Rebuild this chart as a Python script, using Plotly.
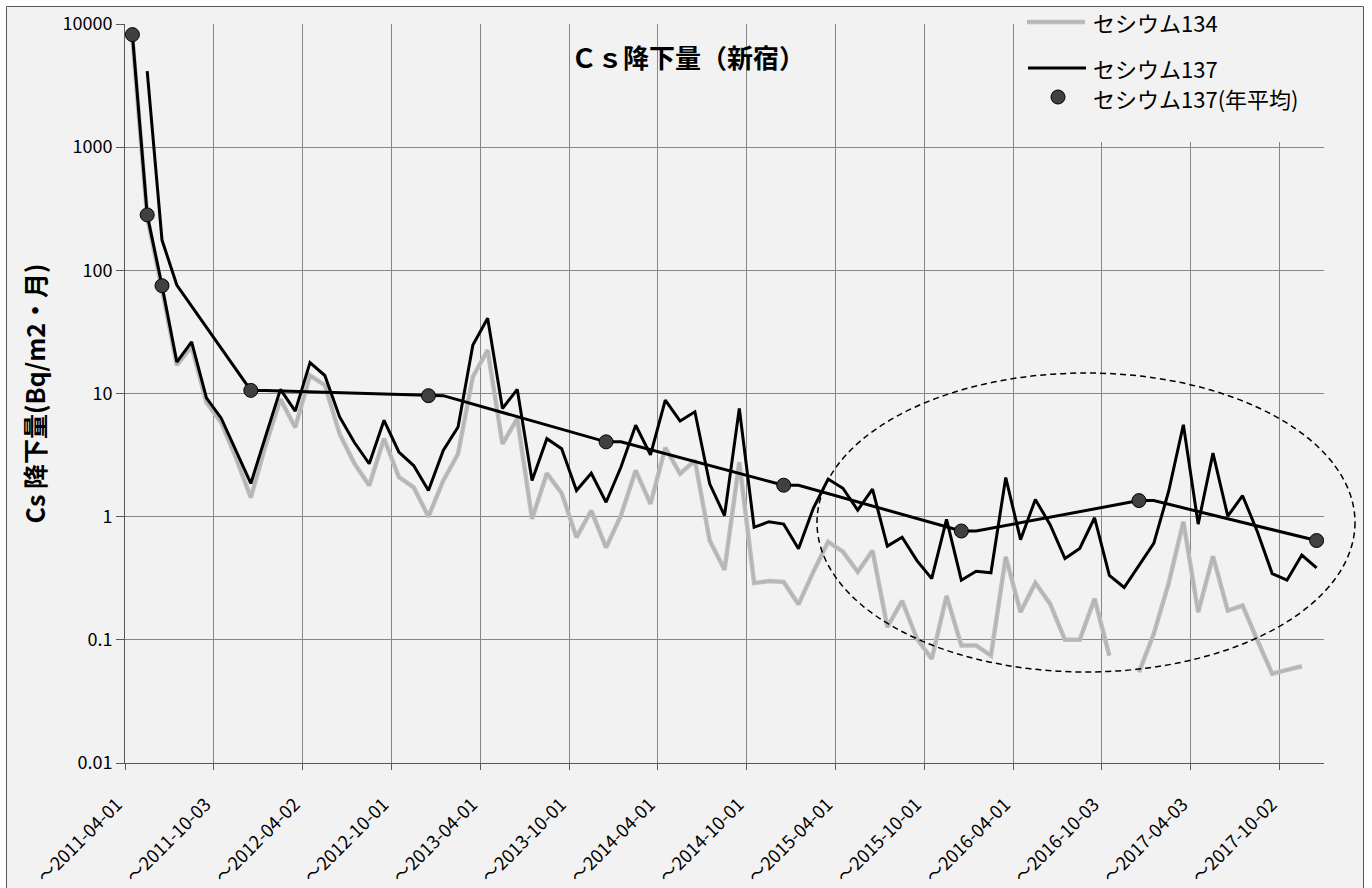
import plotly.graph_objects as go

# Monthly fallout, Shinjuku, April 2011 - December 2017 (Bq/m2 per month)
month_index = list(range(81))

cs137 = [8200, 282, 75, 18.0, 26.2, 9.2, 6.3, 3.4, 1.86, 4.5,
         10.8, 7.2, 17.8, 14.0, 6.45, 4.0, 2.69, 6.06, 3.35, 2.6,
         1.63, 3.45, 5.35, 24.8, 40.9, 7.55, 10.8, 1.97, 4.3, 3.56,
         1.63, 2.25, 1.31, 2.52, 5.52, 3.18, 8.83, 5.98, 7.1, 1.85,
         1.02, 7.55, 0.82, 0.91, 0.87, 0.548, 1.17, 2.02, 1.70, 1.13,
         1.67, 0.577, 0.68, 0.44, 0.314, 0.95, 0.305, 0.36, 0.35, 2.08,
         0.65, 1.38, 0.86, 0.457, 0.552, 0.98, 0.334, 0.266, 0.40, 0.607,
         1.6, 5.58, 0.87, 3.28, 1.01, 1.48, 0.755, 0.345, 0.305, 0.488,
         0.384]

cs134 = [7800, 270, 70, 17, 24, 8.5, 5.8, 3.0, 1.43, 3.8,
         9.0, 5.3, 14, 11.7, 4.7, 2.7, 1.79, 4.3, 2.1, 1.73,
         1.0, 1.96, 3.24, 13.7, 22.5, 3.9, 6.25, 0.96, 2.25, 1.55,
         0.68, 1.12, 0.56, 1.02, 2.37, 1.27, 3.63, 2.23, 2.86, 0.64,
         0.37, 2.77, 0.29, 0.30, 0.295, 0.194, 0.356, 0.625, 0.52, 0.356,
         0.53, 0.127, 0.207, 0.102, 0.07, 0.227, 0.09, 0.09, 0.0745, 0.472,
         0.168, 0.29, 0.196, 0.1, 0.1, 0.216, 0.0745, None, 0.0545, 0.112,
         0.286, 0.91, 0.168, 0.477, 0.173, 0.19, 0.099, 0.053, 0.057, 0.061,
         None]

# Annual averages of Cs-137 (markers)
avg_index = [0, 1, 2, 8, 20, 32, 44, 56, 68, 80]
avg_values = [8200, 282, 75, 10.6, 9.6, 4.05, 1.8, 0.765, 1.35, 0.64]

# Connecting trend line through the annual averages
trend_index = [1, 2, 3, 8, 9, 20, 21, 32, 33, 44, 45, 56, 57, 68, 69, 80]
trend_values = [4150, 176, 76, 10.6, 10.6, 9.6, 9.6, 4.05, 4.05, 1.8, 1.8,
                0.765, 0.765, 1.35, 1.35, 0.64]

x_tick_pos = [0, 6, 12, 18, 24, 30, 36, 42, 48, 54, 60, 66, 72, 78]
x_tick_labels = ["～2011-04-01", "～2011-10-03", "～2012-04-02", "～2012-10-01",
                 "～2013-04-01", "～2013-10-01", "～2014-04-01", "～2014-10-01",
                 "～2015-04-01", "～2015-10-01", "～2016-04-01", "～2016-10-03",
                 "～2017-04-03", "～2017-10-02"]
y_tick_vals = [0.01, 0.1, 1, 10, 100, 1000, 10000]
y_tick_text = ["0.01", "0.1", "1", "10", "100", "1000", "10000"]

legend_names = ["セシウム134", "セシウム137", "セシウム137(年平均)"]

FONT = "Noto Sans CJK JP"
BG = "#f2f2f2"
GRID = "#868686"
AXIS = "#595959"
GRAY_LINE = "#bdbdbd"
MARKER_FILL = "#404040"

W, H = 1372, 888
L, R, T, B = 125, 48, 24, 125


def px_x(px):
    return (px - L) / (W - L - R)


def px_y(py):
    return (H - B - py) / (H - T - B)


def centers(idx):
    return [i + 0.5 for i in idx]


fig = go.Figure()

fig.add_trace(go.Scatter(
    x=centers(month_index), y=cs134, mode="lines", name=legend_names[0],
    line=dict(color=GRAY_LINE, width=4.5), connectgaps=False, showlegend=False))
fig.add_trace(go.Scatter(
    x=centers(month_index), y=cs134, mode="lines", hoverinfo="skip",
    line=dict(color="#a6a6a6", width=1.2, dash="1px,1px"), showlegend=False))
fig.add_trace(go.Scatter(
    x=centers(month_index), y=cs137, mode="lines", name=legend_names[1],
    line=dict(color="black", width=3), showlegend=False))
fig.add_trace(go.Scatter(
    x=centers(trend_index), y=trend_values, mode="lines", hoverinfo="skip",
    line=dict(color="black", width=3), showlegend=False))
fig.add_trace(go.Scatter(
    x=centers(avg_index), y=avg_values, mode="markers", name=legend_names[2],
    marker=dict(size=14, color=MARKER_FILL, line=dict(color="black", width=1)),
    showlegend=False))

shapes = [
    # chart panel
    dict(type="rect", xref="paper", yref="paper",
         x0=px_x(6.5), x1=px_x(1363.5), y0=px_y(900), y1=px_y(6.5),
         fillcolor=BG, line=dict(color=AXIS, width=1), layer="below"),
    # legend box background
    dict(type="rect", xref="paper", yref="paper",
         x0=px_x(1015), x1=px_x(1362), y0=px_y(142), y1=px_y(8),
         fillcolor=BG, line=dict(width=0), layer="above"),
    # highlighted period
    dict(type="circle", xref="paper", yref="paper",
         x0=px_x(817), x1=px_x(1355), y0=px_y(672), y1=px_y(373),
         line=dict(color="black", width=1.5, dash="6px,4px"), layer="above"),
    # legend samples
    dict(type="line", xref="paper", yref="paper",
         x0=px_x(1027), x1=px_x(1085), y0=px_y(22), y1=px_y(22),
         line=dict(color=GRAY_LINE, width=4.5), layer="above"),
    dict(type="line", xref="paper", yref="paper",
         x0=px_x(1027), x1=px_x(1085), y0=px_y(22), y1=px_y(22),
         line=dict(color="#a6a6a6", width=1.2, dash="1px,1px"), layer="above"),
    dict(type="line", xref="paper", yref="paper",
         x0=px_x(1028), x1=px_x(1086), y0=px_y(68), y1=px_y(68),
         line=dict(color="black", width=3), layer="above"),
    dict(type="circle", xref="paper", yref="paper",
         x0=px_x(1051), x1=px_x(1065), y0=px_y(104), y1=px_y(90),
         fillcolor=MARKER_FILL, line=dict(color="black", width=1), layer="above"),
]

annotations = [
    dict(text="<b>Ｃｓ降下量（新宿）</b>", x=px_x(688), y=px_y(56),
         xref="paper", yref="paper", xanchor="center", yanchor="middle",
         showarrow=False, font=dict(family=FONT, size=26, color="black")),
    dict(text="<b>Cs 降下量(Bq/m2・月)</b>", x=px_x(33), y=0.5, textangle=-90,
         xref="paper", yref="paper", xanchor="center", yanchor="middle",
         showarrow=False, font=dict(family=FONT, size=25, color="black")),
]
for name, row_y in zip(legend_names, [22, 68, 98]):
    annotations.append(dict(
        text=name, x=px_x(1091), y=px_y(row_y), xref="paper", yref="paper",
        xanchor="left", yanchor="middle", showarrow=False,
        font=dict(family=FONT, size=22, color="black")))

fig.update_layout(
    width=W, height=H,
    margin=dict(l=L, r=R, t=T, b=B, pad=0, autoexpand=False),
    paper_bgcolor="white", plot_bgcolor="rgba(0,0,0,0)",
    font=dict(family=FONT, color="black"),
    shapes=shapes, annotations=annotations, showlegend=False,
    xaxis=dict(range=[0, 81], tickmode="array", tickvals=x_tick_pos,
               ticktext=x_tick_labels, tickangle=-45, ticks="outside",
               ticklen=6, tickcolor=AXIS, showgrid=True, gridcolor=GRID,
               gridwidth=1, showline=True, linecolor=AXIS, linewidth=1,
               zeroline=False, tickfont=dict(family=FONT, size=18),
               ticklabelstandoff=17, ticklabelshift=-8, automargin=False),
    yaxis=dict(type="log", range=[-2, 4], tickmode="array",
               tickvals=y_tick_vals, ticktext=y_tick_text, ticks="outside",
               ticklen=8, tickcolor=AXIS, showgrid=True, gridcolor=GRID,
               gridwidth=1, showline=True, linecolor=AXIS, linewidth=1,
               zeroline=False, tickfont=dict(family=FONT, size=18),
               automargin=False),
)

fig.write_html("out.html")
